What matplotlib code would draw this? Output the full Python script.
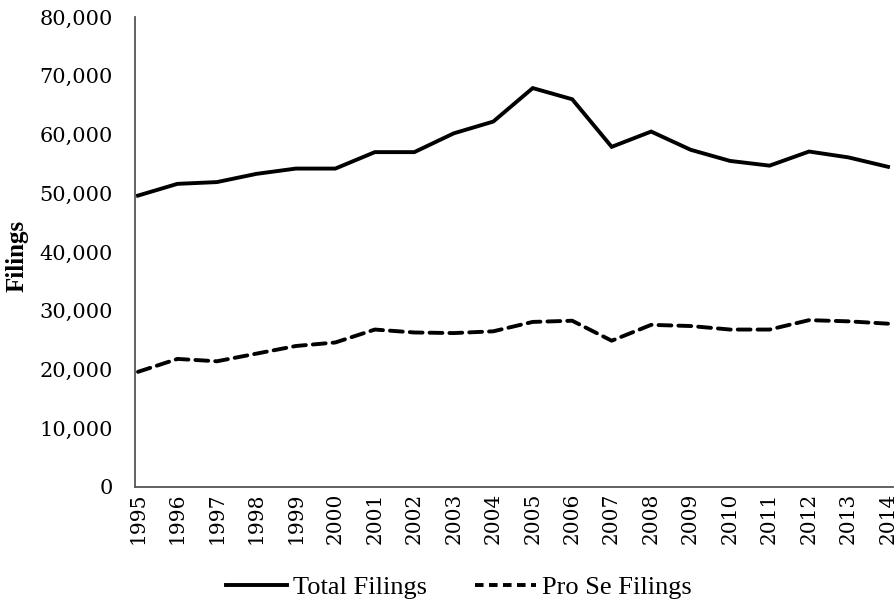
import matplotlib
matplotlib.use("Agg")
import matplotlib.pyplot as plt
from matplotlib.ticker import FuncFormatter
from matplotlib.lines import Line2D

years = list(range(1995, 2015))
total_filings = [49600, 51600, 51900, 53300, 54200, 54200, 57000, 57000, 60200, 62200,
                 67900, 66000, 57900, 60500, 57400, 55500, 54700, 57100, 56100, 54500]
pro_se_filings = [19600, 21800, 21400, 22700, 24000, 24600, 26800, 26300, 26200, 26500,
                  28100, 28300, 24900, 27600, 27400, 26800, 26800, 28400, 28200, 27800]
y_ticks = list(range(0, 80001, 10000))
series_names = ["Total Filings", "Pro Se Filings"]

W, H = 896, 606
fig = plt.figure(figsize=(W / 100, H / 100), dpi=100)
ax = fig.add_axes([135 / W, 1 - 487 / H, (893 - 135) / W, (487 - 17) / H])

ax.plot(years, total_filings, color="black", lw=2.8, solid_joinstyle="miter",
        label=series_names[0])
ax.plot(years, pro_se_filings, color="black", lw=2.8, dashes=(3.3, 1.8),
        dash_capstyle="round", label=series_names[1])

ax.set_xlim(1994.924, 2014.127)
ax.set_ylim(0, 80000)
ax.set_yticks(y_ticks)
ax.yaxis.set_major_formatter(FuncFormatter(lambda v, p: f"{int(v):,}"))
ax.set_xticks(years)
ax.set_xticklabels([str(y) for y in years], rotation=90, family="DejaVu Serif", fontsize=14.5)
for lab in ax.get_yticklabels():
    lab.set_family("DejaVu Serif")
    lab.set_fontsize(15)
ax.tick_params(axis="y", length=0, pad=16)
ax.tick_params(axis="x", length=0, pad=4)

for s in ["top", "right"]:
    ax.spines[s].set_visible(False)
for s in ["left", "bottom"]:
    ax.spines[s].set_color("#555555")
    ax.spines[s].set_linewidth(1.3)

fig.text(17 / W, 1 - 256 / H, "Filings", rotation=90, ha="center", va="center",
         family="Liberation Serif", fontweight="bold", fontsize=18)

handles = [Line2D([], [], color="black", lw=2.8),
           Line2D([], [], color="black", lw=2.8, dashes=(2.2, 1.4))]
fig.legend(handles, series_names,
           loc="center", bbox_to_anchor=(459 / W, 1 - 587 / H), ncol=2,
           frameon=False, prop={"family": "Liberation Serif", "size": 19},
           handlelength=2.3, handletextpad=0.25, columnspacing=1.8)

fig.savefig("out.png", dpi=100)
